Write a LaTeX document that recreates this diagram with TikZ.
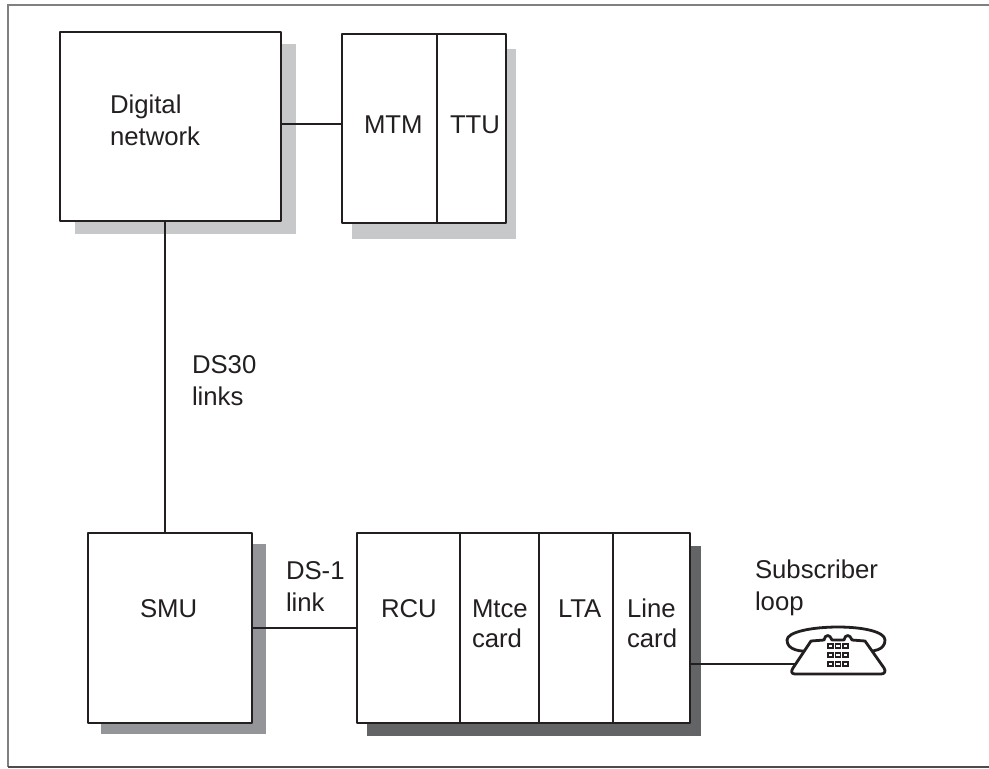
\documentclass[tikz,border=0pt]{standalone}
\usepackage{fontspec}
\setmainfont{Liberation Sans}
\usetikzlibrary{fit}
\definecolor{ink}{HTML}{231F20}
\definecolor{shlight}{HTML}{C6C8CA}
\definecolor{shmid}{HTML}{939598}
\definecolor{shdark}{HTML}{636466}
\tikzset{
  boxnode/.style={draw=ink,line width=1.65pt,fill=white,inner sep=0pt,line join=round},
  lab/.style={anchor=base west,inner sep=0pt,outer sep=0pt,text=ink,font=\fontsize{19.3pt}{23.25pt}\selectfont,align=left},
  wire/.style={draw=ink,line width=1.65pt},
  phoneline/.style={draw=ink,line width=2.1pt,line join=round,line cap=round,fill=white},
  keypad/.style={draw=ink,line width=1pt,fill=white}
}
\begin{document}
\begin{tikzpicture}[x=0.75pt,y=-0.75pt]
\useasboundingbox (0,0) rectangle (989,768);
\draw[draw=gray,line width=1.2pt] (989,5) -- (8,5) -- (8,767);
\draw[draw=black!70,line width=1.2pt] (8,767) -- (989,767);
% shadows
\fill[shlight] (75,44) rectangle (296,234);
\fill[shlight] (352,49) rectangle (516,239);
\fill[shmid] (101,544) rectangle (266,734);
\fill[shdark] (367,546) rectangle (701,736);
% boxes
\node[boxnode,fit={(60,32)(281,221)}] (dn) {};
\node[boxnode,fit={(342,34)(437,223)}] (mtm) {};
\node[boxnode,fit={(437,34)(506,223)}] (ttu) {};
\node[boxnode,fit={(88,533)(252,723)}] (smu) {};
\node[boxnode,fit={(357,533)(460,723)}] (rcu) {};
\node[boxnode,fit={(460,533)(539,723)}] (mtce) {};
\node[boxnode,fit={(539,533)(613,723)}] (lta) {};
\node[boxnode,fit={(613,533)(690,723)}] (line) {};
% labels
\node[lab] (tdn1) at (110,113) {Digital};
\node[lab] (tdn2) at (110,145) {network};
\node[lab] (tmtm) at (364,133) {MTM};
\node[lab] (tttu) at (450,133) {TTU};
\node[lab] (tds30a) at (192,373) {DS30};
\node[lab] (tds30b) at (192,405) {links};
\node[lab] (tsmu) at (140,617) {SMU};
\node[lab] (tds1a) at (286,579) {DS-1};
\node[lab] (tds1b) at (286,611) {link};
\node[lab] (trcu) at (381,617) {RCU};
\node[lab] (tmt1) at (472,617) {Mtce};
\node[lab] (tmt2) at (472,647) {card};
\node[lab] (tlta) at (558,617) {LTA};
\node[lab] (tli1) at (627,617) {Line};
\node[lab] (tli2) at (627,647) {card};
\node[lab] (tsub1) at (755,578) {Subscriber};
\node[lab] (tsub2) at (755,610) {loop};
% connectors
\coordinate (c1) at (0,124);
\coordinate (c2) at (0,628);
\coordinate (c3) at (0,664);
\coordinate (c4) at (165,0);
\coordinate (phoneend) at (800,664);
\draw[wire] (dn.east |- c1) -- (mtm.west |- c1);
\draw[wire] (c4 |- dn.south) -- (c4 |- smu.north);
\draw[wire] (smu.east |- c2) -- (rcu.west |- c2);
\draw[wire] (line.east |- c3) -- (phoneend);
% telephone
\draw[phoneline] (812,651) .. controls (800,652) and (787,650) .. (787,640)
  .. controls (787,632) and (812,627) .. (838,627)
  .. controls (864,627) and (885,632) .. (885,640)
  .. controls (885,650) and (874,652) .. (862,651) -- cycle;
\draw[phoneline] (795,674) .. controls (791,674) and (791,671) .. (793,668)
  -- (811,641) -- (824,640) .. controls (825,634) and (830,634) .. (832,640)
  -- (844,640) .. controls (845,634) and (850,634) .. (852,640) -- (865,641)
  -- (884,668) .. controls (886,671) and (885,674) .. (881,674) -- cycle;
\foreach \r in {0,1,2}{\foreach \c in {0,1,2}{
  \draw[keypad] (828+\c*7.5,644+\r*9) rectangle ++(5,4);
}}
\end{tikzpicture}
\end{document}
